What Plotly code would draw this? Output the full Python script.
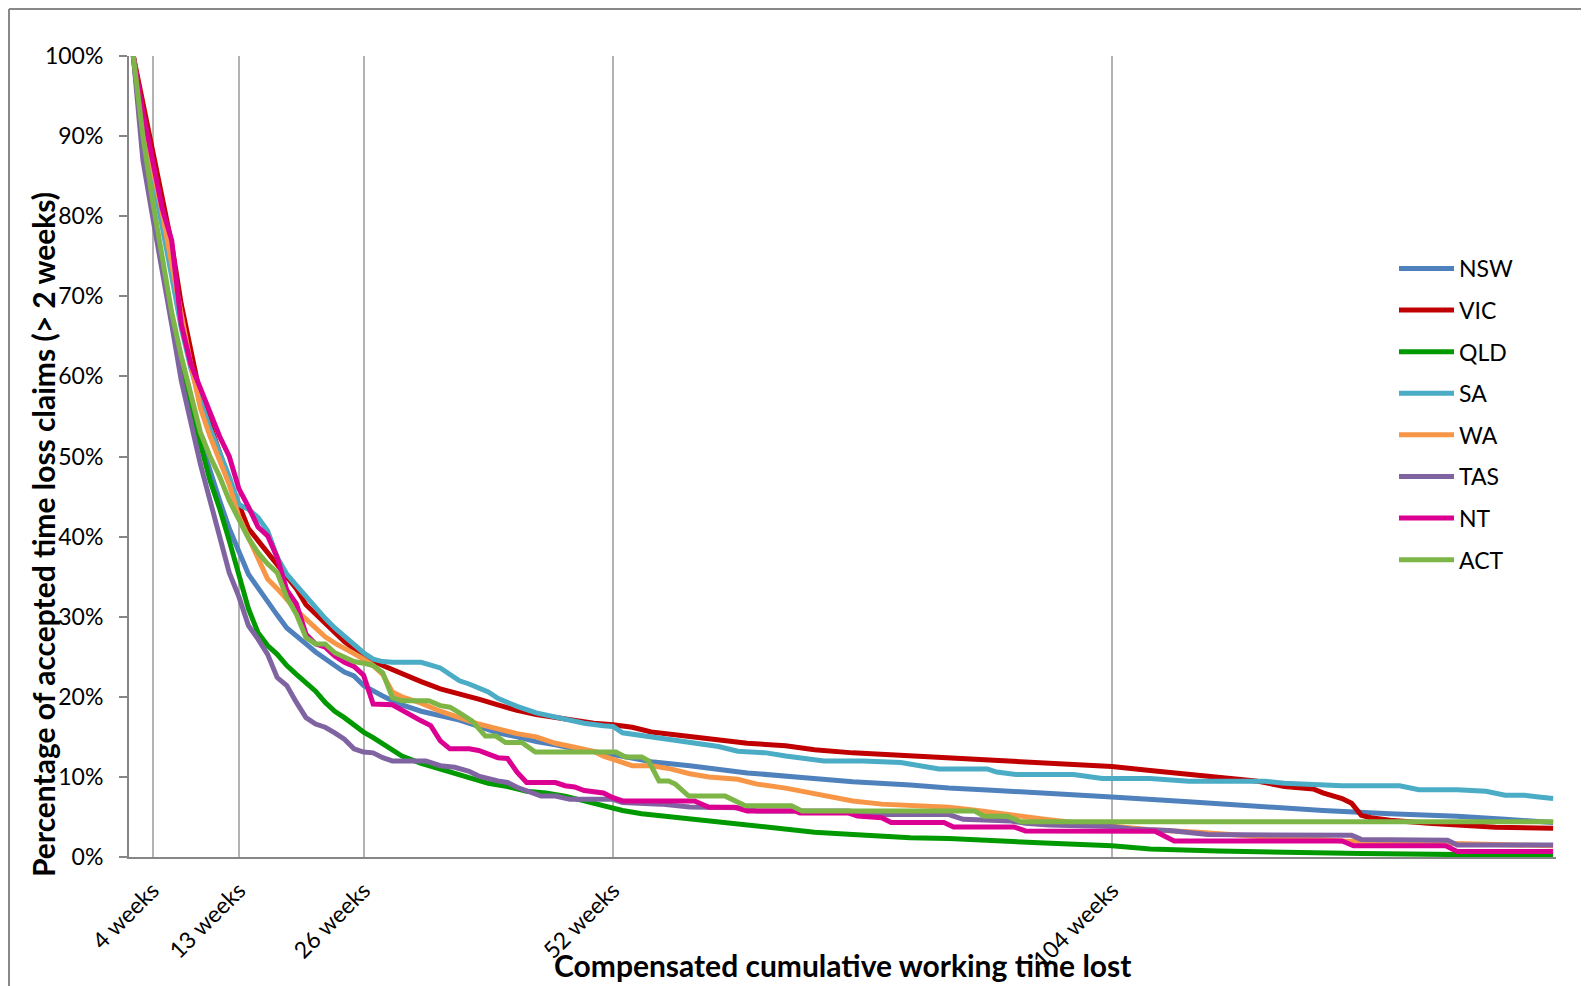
import plotly.graph_objects as go

# ---------------- data ----------------
nsw_weeks = [2,3,4,5,6,7,8,9,10,11,12,13,14,15,16,17,18,19,20,21,22,23,24,25,26,27,28,29,30,32,34,36,38,40,42,44,46,48,52,56,60,66,72,77,83,87,92,97,104,112,119,126,133,140,145,150]
nsw_vals  = [100,89.5,81.5,74,67,61,56,52,48,44.5,41,38.3,35.3,33.6,31.8,30.2,28.6,27.5,26.6,25.6,24.7,23.9,23.1,22.6,21.4,20.7,20.1,19.5,19.0,18.2,17.6,17.1,16.3,15.5,15.0,14.4,14.0,13.5,12.8,11.9,11.4,10.5,9.9,9.4,9.0,8.6,8.3,8.0,7.5,6.9,6.3,5.8,5.4,5.1,4.7,4.3]

vic_weeks = [2,3,4,5,6,7,8,9,10,11,12,13,14,15,16,17,18,19,20,21,22,23,24,25,26,27,28,29,30,32,34,36,38,40,42,44,46,48,50,52,54,56,59,62,66,70,73,77,80,83,87,90,94,97,101,104,108,112,115,119,122,125,126,128,129,130,131,133,137,141,144,150]
vic_vals  = [100,94,88.5,82.5,76.5,69,63,57.5,54,50.5,47,44,41,39.5,38,36.5,35.1,33.5,31.5,30.3,29.2,28.0,26.9,26.0,25.2,24.5,23.9,23.4,22.8,21.9,21.0,20.4,19.7,19.0,18.3,17.8,17.4,17.0,16.7,16.5,16.2,15.6,15.2,14.8,14.2,13.9,13.4,13.0,12.8,12.6,12.4,12.2,11.9,11.7,11.5,11.3,10.8,10.3,10.0,9.5,8.8,8.5,8.0,7.3,6.7,5.2,4.9,4.6,4.2,3.9,3.7,3.6]

qld_weeks = [2,3,4,5,6,7,8,9,10,11,12,13,14,15,16,17,18,19,20,21,22,23,24,25,26,27,28,29,30,32,34,37,39,41,43,45,47,49,51,53,55,59,63,66,70,73,77,80,83,87,90,94,97,104,108,115,123,130,140,150]
qld_vals  = [100,89.5,81.5,74,67,61,56,51.5,47,43.5,39.5,35.5,31,28,26.4,25.3,23.9,22.8,21.8,20.7,19.3,18.2,17.4,16.4,15.6,14.9,14.1,13.4,12.6,11.7,11.0,9.8,9.2,8.8,8.2,8.0,7.6,7.0,6.4,5.8,5.4,4.9,4.3,3.9,3.5,3.1,2.8,2.6,2.4,2.3,2.1,1.9,1.75,1.4,1.0,0.75,0.55,0.43,0.3,0.2]

sa_weeks = [2,3,4,5,6,7,8,9,10,11,12,13,14,15,16,17,18,19,20,21,22,23,24,25,26,27,28,29,32,34,35,36,37,39,40,42,44,45.5,47,49,51,52,53,56,58,61,63,65,68,70,72,74,78,82,84,86,91,92,94,100,103,108,112,120,122,125,128,134,136,140,143,145,147,148.5,150]
sa_vals  = [100,91.5,85,79,72.5,66,61,57,53.5,50.5,47.5,44,43.4,42.4,40.7,37.4,35.3,33.9,32.5,31.0,29.8,28.6,27.5,26.5,25.5,24.7,24.4,24.3,24.3,23.6,22.8,22.0,21.6,20.6,19.8,18.8,18.0,17.6,17.3,16.7,16.4,16.3,15.5,15.0,14.6,14.1,13.8,13.2,13.0,12.6,12.3,12.0,12.0,11.8,11.4,11.0,11.0,10.6,10.3,10.3,9.8,9.8,9.45,9.45,9.2,9.1,8.9,8.9,8.4,8.4,8.2,7.7,7.7,7.5,7.3]

wa_weeks = [2,3,4,5,6,7,8,9,10,11,12,13,14,15,16,17,18,19,20,21,22,23,24,25,26,27,28,29,30,32,34,36,38,40,42,44,46,48,50,51,52.5,54,56,58,60,62,65,67,70,73,75,77,80,84,87,90,94,97,100,104,108,113,116,120,124,128,132,136,140,145,150]
wa_vals  = [100,92,86,80.5,74,67.5,61.5,56,52.5,49.5,46.5,42.5,39.8,37.2,34.7,33.5,32.1,30.8,29.7,28.6,27.5,26.7,26.1,25.4,24.7,23.9,22.8,20.6,20.0,19.2,18.2,17.4,16.6,16.0,15.4,15.0,14.2,13.7,13.2,12.6,12.0,11.4,11.4,11.0,10.4,10.0,9.7,9.1,8.6,7.9,7.5,7.0,6.6,6.3,6.2,5.8,5.1,4.7,4.3,3.8,3.4,3.1,2.8,2.5,2.3,2.0,1.9,1.8,1.7,1.5,1.4]

tas_weeks = [2,3,4,5,6,7,8,9,10,11,12,13,14,15,16,17,18,19,20,21,22,23,24,25,26,27,28,29,32.5,34,35.5,37,38,40,41,42,43,44.5,46,47.5,52,53,57,60,65,67,76.5,80,87,88.5,93.5,95,97.5,104,106,110,114,129,130,139,140,150]
tas_vals  = [100,87,80,73.5,66.5,59.5,54,49,44.5,40,35.5,32.5,28.9,27.2,25.3,22.4,21.4,19.3,17.4,16.6,16.2,15.5,14.7,13.5,13.1,13.0,12.4,12.0,12.0,11.4,11.2,10.7,10.1,9.5,9.3,8.7,8.2,7.6,7.6,7.2,7.2,6.8,6.6,6.25,6.15,5.75,5.75,5.3,5.3,4.7,4.5,4.2,4.0,3.8,3.5,3.3,2.8,2.7,2.2,2.1,1.5,1.5]

nt_weeks = [2,3,4,5,6,7,8,9,10,11,12,13,14,15,16,17,18,19,20,21,22,23,24,25,26,27,29,30,31,32,33,34,35,37,38,39,40,41,42,43,46,47,48,49,51,52,53,60.5,62,64.7,66,71,71.5,76.5,77.5,80,81,86.5,87.5,93.8,95,108.5,110.5,128,129.2,138.8,140,150]
nt_vals  = [100,93,87,81,77,66.5,61.5,58.5,55.5,52.5,50,46,43.7,41.2,40.1,37.4,33.3,31.6,27.8,26.6,26.2,25.1,24.3,23.8,22.7,19.1,19.0,18.3,17.6,17.0,16.4,14.5,13.5,13.5,13.3,12.8,12.4,12.3,10.6,9.3,9.3,8.9,8.75,8.3,8.0,7.4,7.0,7.0,6.2,6.2,5.75,5.75,5.5,5.5,5.1,4.9,4.3,4.3,3.75,3.75,3.25,3.2,2.0,2.0,1.4,1.4,0.7,0.7]

act_weeks = [2,3,4,5,6,7,8,9,10,11,12,13,14,15,16,17,18,19,20,21,22,23,24,25,26,27,28,29,30,32.8,34,35,36,37.3,38.7,39.8,40.8,42.5,43.9,52.3,53.3,55,55.7,56.8,57.8,58.5,59.9,63.7,65.8,70.6,71.7,89.7,90.7,93.1,94.5,150]
act_vals  = [100,90,82,75,68,62.5,57.5,53,50,47.5,44.5,42,39.8,38.0,36.6,35.5,32.4,30.3,27.4,26.6,26.6,25.5,25.0,24.4,24.2,23.9,23.0,19.9,19.5,19.5,18.9,18.7,18.0,17.0,15.1,15.1,14.3,14.3,13.1,13.1,12.5,12.5,12.0,9.5,9.5,9.1,7.6,7.6,6.4,6.4,5.75,5.75,5.1,5.1,4.4,4.4]

series_names = ["NSW", "VIC", "QLD", "SA", "WA", "TAS", "NT", "ACT"]
series_weeks = [nsw_weeks, vic_weeks, qld_weeks, sa_weeks, wa_weeks, tas_weeks, nt_weeks, act_weeks]
series_vals = [nsw_vals, vic_vals, qld_vals, sa_vals, wa_vals, tas_vals, nt_vals, act_vals]
series_colors = ["#4F81BD", "#C00000", "#009A00", "#4BACC6", "#F79646", "#8064A2", "#DC0092", "#7DB646"]

tick_weeks = [4, 13, 26, 52, 104]
tick_labels = ["4 weeks", "13 weeks", "26 weeks", "52 weeks", "104 weeks"]
y_ticks = [0, 10, 20, 30, 40, 50, 60, 70, 80, 90, 100]
y_labels = [f"{v}%" for v in y_ticks]

FONT = "Lato"
fig = go.Figure()
for name, wk, vals, col in zip(series_names, series_weeks, series_vals, series_colors):
    fig.add_trace(go.Scatter(
        x=wk, y=vals, name=name, mode="lines", legendgroup=name,
        line=dict(color=col, width=5),
    ))

# figure sits at (8, 8) in the page (default body margin)
W, H = 1581, 978
ml, mr, mt, mb = 121, 33, 48, 129
pw, ph = W - ml - mr, H - mt - mb

def px_to_paper_x(px):
    return (px - ml) / pw

def px_to_paper_y(py):
    return (H - mb - py) / ph

fig.update_layout(
    width=W, height=H,
    margin=dict(l=ml, r=mr, t=mt, b=mb, pad=0),
    paper_bgcolor="white", plot_bgcolor="white",
    font=dict(family=FONT, color="#000000", size=23),
    showlegend=True,
    legend=dict(
        x=px_to_paper_x(1386), y=px_to_paper_y(239), xanchor="left", yanchor="top",
        font=dict(family=FONT, size=23, color="#000000"),
        tracegroupgap=8.7, itemwidth=55, bgcolor="rgba(0,0,0,0)",
    ),
    xaxis=dict(
        range=[1.55, 150.3], tickmode="array", tickvals=tick_weeks, ticktext=tick_labels,
        tickangle=-45, showgrid=True, gridcolor="#B2B2B2", gridwidth=2,
        showline=True, linecolor="#868686", linewidth=2, ticks="",
        zeroline=False, tickfont=dict(family=FONT, size=23), ticklabelstandoff=9,
    ),
    yaxis=dict(
        range=[0, 100], tickmode="array", tickvals=y_ticks, ticktext=y_labels,
        showgrid=False, showline=True, linecolor="#868686", linewidth=2,
        ticks="outside", ticklen=8, tickcolor="#868686", tickwidth=2,
        zeroline=False, tickfont=dict(family=FONT, size=23), ticklabelstandoff=11,
    ),
    annotations=[
        dict(text="<b>Percentage of accepted time loss claims (&gt; 2 weeks)</b>",
             xref="paper", yref="paper", x=px_to_paper_x(35), y=px_to_paper_y(527),
             xanchor="center", yanchor="middle", textangle=-90, showarrow=False,
             font=dict(family=FONT, size=30, color="#000000")),
        dict(text="<b>Compensated cumulative working time lost</b>",
             xref="paper", yref="paper", x=px_to_paper_x(834), y=px_to_paper_y(957),
             xanchor="center", yanchor="middle", showarrow=False,
             font=dict(family=FONT, size=30, color="#000000")),
    ],
    shapes=[
        dict(type="line", xref="paper", yref="paper",
             x0=px_to_paper_x(1), x1=px_to_paper_x(1600),
             y0=px_to_paper_y(1), y1=px_to_paper_y(1),
             line=dict(color="#888888", width=2)),
        dict(type="line", xref="paper", yref="paper",
             x0=px_to_paper_x(1), x1=px_to_paper_x(1),
             y0=px_to_paper_y(1), y1=px_to_paper_y(1000),
             line=dict(color="#888888", width=2)),
    ],
)

fig.write_html("out.html")
